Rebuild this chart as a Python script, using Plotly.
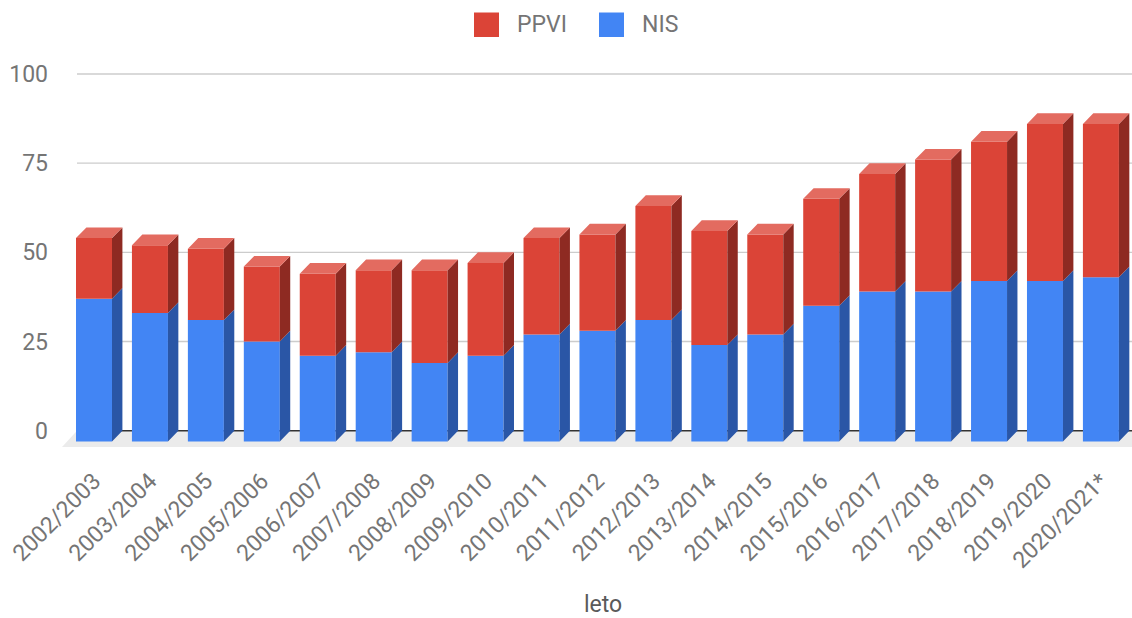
import plotly.graph_objects as go

# ---- data ----
categories = ["2002/2003", "2003/2004", "2004/2005", "2005/2006", "2006/2007",
              "2007/2008", "2008/2009", "2009/2010", "2010/2011", "2011/2012",
              "2012/2013", "2013/2014", "2014/2015", "2015/2016", "2016/2017",
              "2017/2018", "2018/2019", "2019/2020", "2020/2021*"]
nis = [40, 36, 34, 28, 24, 25, 22, 24, 30, 31, 34, 27, 30, 38, 42, 42, 45, 45, 46]
ppvi = [17, 19, 20, 21, 23, 23, 26, 26, 27, 27, 32, 32, 28, 30, 33, 37, 39, 44, 43]
y_ticks = [0, 25, 50, 75, 100]

# ---- style / layout constants ----
W, H = 1132, 618
ML, MR, MT, MB = 55, 0, 63, 170
PX_PER_UNIT = 3.567
Y0_PX = 430.7                     # pixel row of value 0 (back plane)
X_PX0, X_STEP = 94.0, 55.94       # front-face center of first bar, spacing
BAR_W = 0.6436
DX, DY = 0.186, 3.0               # 3D depth offset (category units, value units)

y_top = (Y0_PX - MT) / PX_PER_UNIT
y_bot = -((H - MB) - Y0_PX) / PX_PER_UNIT
x_left = (ML - X_PX0) / X_STEP
x_right = (W - MR - X_PX0) / X_STEP
grid_x0 = (77 - X_PX0) / X_STEP

BLUE, BLUE_SIDE = "#4285F4", "#2A56A6"
RED, RED_SIDE, RED_TOP = "#DB4437", "#8E2A22", "#E36B60"
TXT = "#757575"
FONT = "Roboto"

xs = list(range(len(categories)))
nis_base = [-DY] * len(nis)
ppvi_base = [n - DY for n in nis]

fig = go.Figure()

# front faces
fig.add_trace(go.Bar(x=xs, y=nis, base=nis_base, width=BAR_W, marker_color=BLUE,
                     marker_line_width=0, name="NIS", showlegend=False,
                     customdata=nis, hovertemplate="%{customdata}<extra>NIS</extra>"))
fig.add_trace(go.Bar(x=xs, y=ppvi, base=ppvi_base, width=BAR_W, marker_color=RED,
                     marker_line_width=0, name="PPVI", showlegend=False,
                     customdata=ppvi, hovertemplate="%{customdata}<extra>PPVI</extra>"))


def side_polys(bottoms, tops):
    px, py = [], []
    for c, b, t in zip(xs, bottoms, tops):
        r = c + BAR_W / 2
        px += [r, r + DX, r + DX, r, r, None]
        py += [b, b + DY, t + DY, t, b, None]
    return px, py


def top_polys(tops):
    px, py = [], []
    for c, t in zip(xs, tops):
        l, r = c - BAR_W / 2, c + BAR_W / 2
        px += [l, l + DX, r + DX, r, l, None]
        py += [t, t + DY, t + DY, t, t, None]
    return px, py


nis_tops = [b + n for b, n in zip(nis_base, nis)]
ppvi_tops = [b + p for b, p in zip(ppvi_base, ppvi)]

sx, sy = side_polys(nis_base, nis_tops)
fig.add_trace(go.Scatter(x=sx, y=sy, fill="toself", fillcolor=BLUE_SIDE, mode="lines",
                         line=dict(width=0), hoverinfo="skip", showlegend=False))
sx, sy = side_polys(ppvi_base, ppvi_tops)
fig.add_trace(go.Scatter(x=sx, y=sy, fill="toself", fillcolor=RED_SIDE, mode="lines",
                         line=dict(width=0), hoverinfo="skip", showlegend=False))
tx, ty = top_polys(ppvi_tops)
fig.add_trace(go.Scatter(x=tx, y=ty, fill="toself", fillcolor=RED_TOP, mode="lines",
                         line=dict(width=0), hoverinfo="skip", showlegend=False))

shapes = []
# floor
floor_depth = 4.57
floor_dx = 0.268
shapes.append(dict(type="path", layer="below", line=dict(width=0), fillcolor="#EBEBEB",
                   path=f"M {grid_x0},0 L {x_right + 1},0 L {x_right + 1 - floor_dx},{-floor_depth} "
                        f"L {grid_x0 - floor_dx},{-floor_depth} Z",
                   xref="x", yref="y"))
# gridlines
for v in y_ticks:
    if v == 0:
        continue
    shapes.append(dict(type="line", layer="below", xref="x", yref="y",
                       x0=grid_x0, x1=x_right + 1, y0=v, y1=v,
                       line=dict(color="#CCCCCC", width=1.3)))
# zero line
shapes.append(dict(type="line", layer="below", xref="x", yref="y",
                   x0=grid_x0, x1=x_right + 1, y0=0, y1=0,
                   line=dict(color="#333333", width=1.5)))

# manual legend
PW = W - ML - MR
PH = (H - MB) - MT


def pxx(p):
    return (p - ML) / PW


def pxy(p):
    return ((H - MB) - p) / PH


legend_items = [("PPVI", RED, 474, 515), ("NIS", BLUE, 599, 640)]
annotations = []
for label, col, sq_x, tx_x in legend_items:
    shapes.append(dict(type="rect", xref="paper", yref="paper",
                       x0=pxx(sq_x), x1=pxx(sq_x + 25), y0=pxy(12.5), y1=pxy(37),
                       fillcolor=col, line=dict(width=0)))
    annotations.append(dict(text=label, xref="paper", yref="paper", x=pxx(tx_x), y=pxy(24.5),
                            xanchor="left", yanchor="middle", showarrow=False,
                            font=dict(family=FONT, size=23, color=TXT)))

annotations.append(dict(text="leto", xref="paper", yref="paper", x=pxx(603), y=pxy(604),
                        xanchor="center", yanchor="middle", showarrow=False,
                        font=dict(family=FONT, size=23, color="#5A5A5A")))

fig.update_layout(
    width=W, height=H,
    margin=dict(l=ML, r=MR, t=MT, b=MB, pad=0),
    paper_bgcolor="white", plot_bgcolor="white",
    barmode="overlay",
    showlegend=False,
    shapes=shapes,
    annotations=annotations,
    font=dict(family=FONT, size=23, color=TXT),
    xaxis=dict(range=[x_left, x_right], tickvals=xs, ticktext=categories, tickangle=-45,
               showgrid=False, zeroline=False, showline=False, ticks="",
               ticklabelstandoff=14, ticklabelshift=0,
               tickfont=dict(family=FONT, size=23, color=TXT)),
    yaxis=dict(range=[y_bot, y_top], tickvals=y_ticks, showgrid=False, zeroline=False,
               showline=False, ticks="", ticklabelstandoff=6,
               tickfont=dict(family=FONT, size=23, color=TXT)),
)

fig.write_html("out.html", config={"displayModeBar": False},
               post_script="document.body.style.margin='0';document.body.style.overflow='hidden';")
